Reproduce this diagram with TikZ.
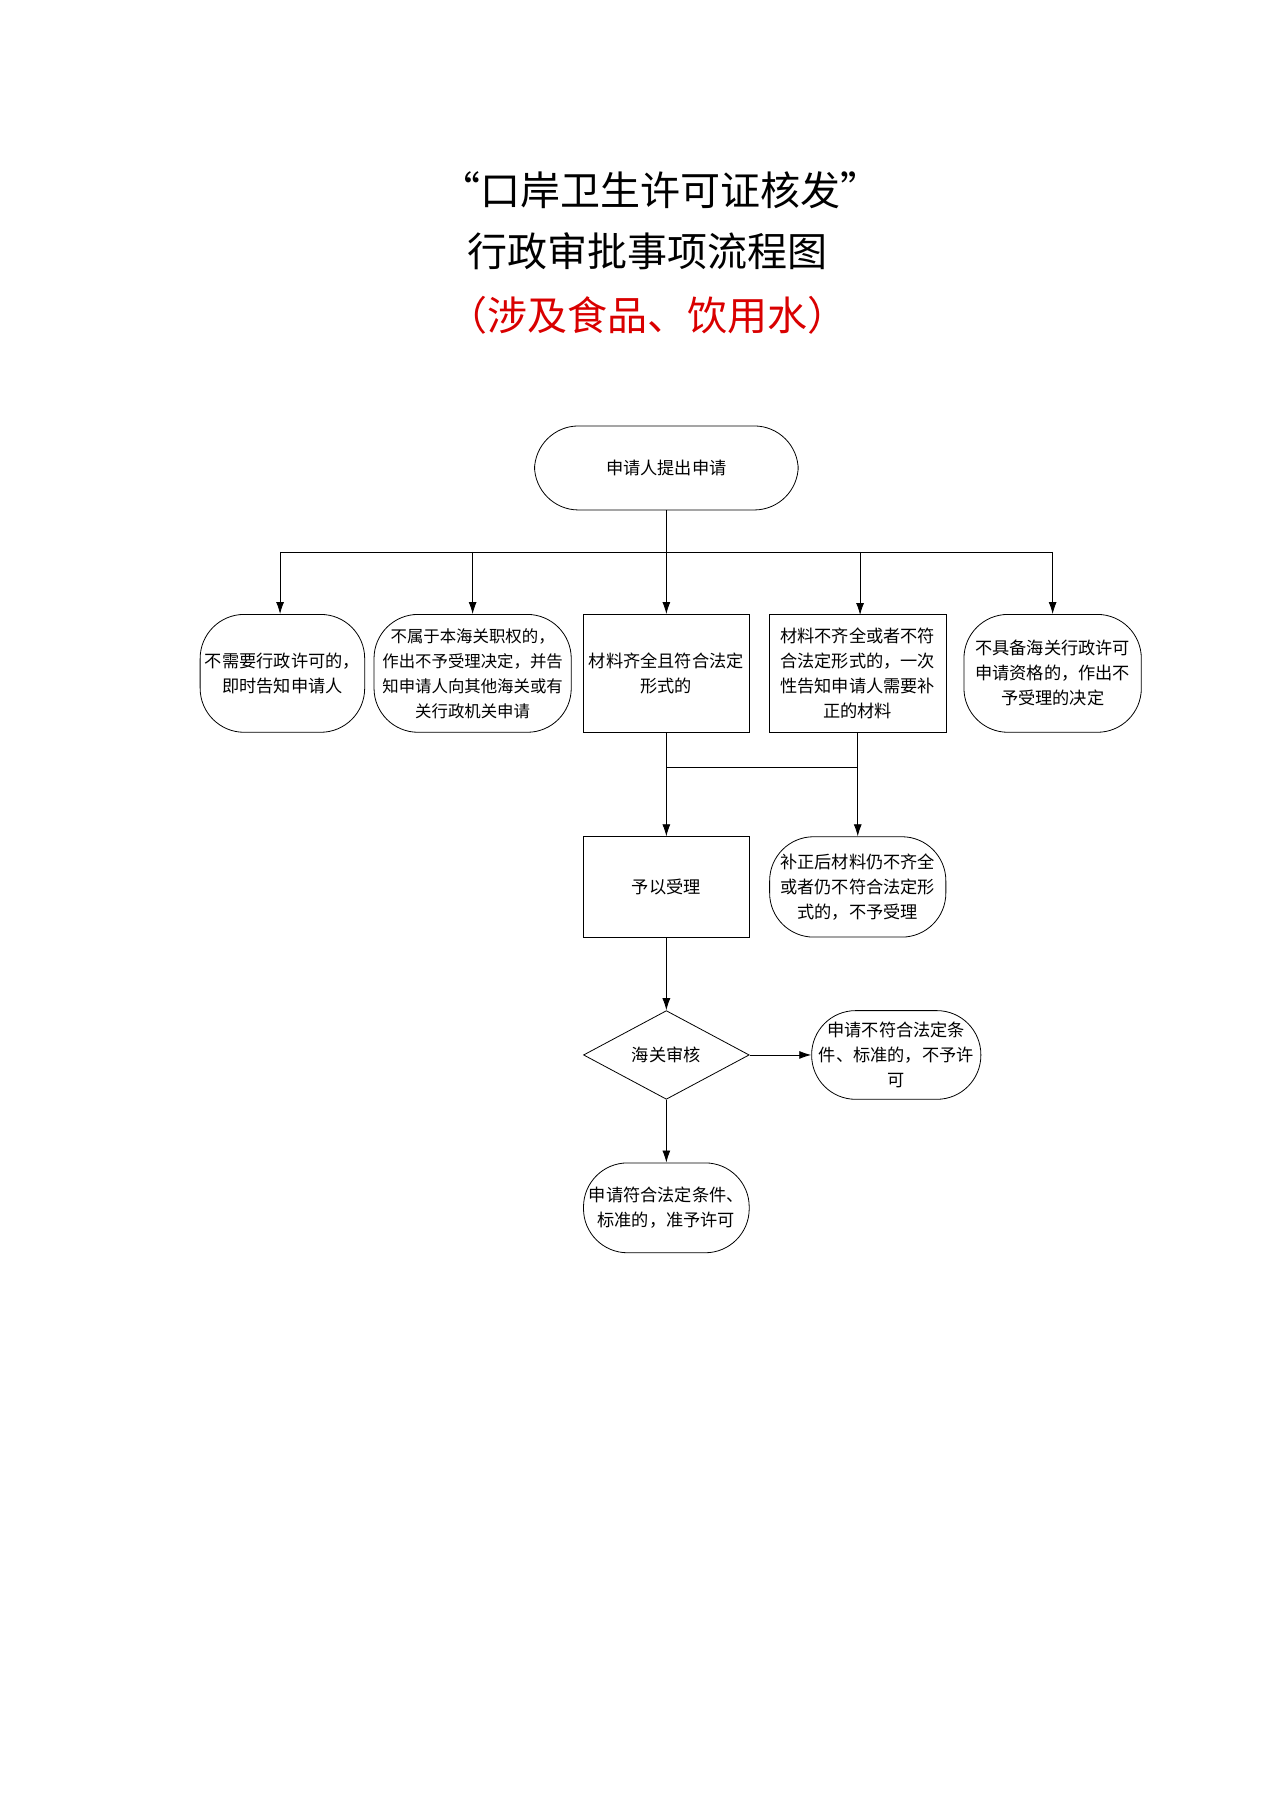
\documentclass[tikz,border=0pt]{standalone}
\usepackage{fontspec}
\setmainfont{Noto Sans CJK SC}
\usetikzlibrary{arrows.meta,shapes.geometric}
\begin{document}
\begin{tikzpicture}[x=0.5833pt,y=-0.5833pt,
  box/.style={draw,thin,minimum width=142*0.5833pt,minimum height=101*0.5833pt,align=center,font=\fontsize{8.6}{12.5}\selectfont,inner sep=1pt},
  rbox/.style={box,rounded corners=22pt},
  arr/.style={-{Latex[length=6pt,width=4pt]},thin},
  ln/.style={thin}]
\useasboundingbox (0,0) rectangle (1097,1551);
\node[font=\fontsize{20}{24}\selectfont] (t1) at (566,163) {“口岸卫生许可证核发”};
\node[font=\fontsize{20}{24}\selectfont] (t2) at (555,215) {行政审批事项流程图};
\node[font=\fontsize{20}{24}\selectfont,text=red!85!black] (t3) at (555,270) {（涉及食品、饮用水）};
\node[rbox,minimum width=226*0.5833pt,minimum height=72*0.5833pt] (s) at (571,401) {申请人提出申请};
\node[rbox,minimum width=141*0.5833pt] (a) at (242,577) {不需要行政许可的，\\即时告知申请人};
\node[rbox,minimum width=169*0.5833pt,font=\fontsize{8.2}{12.5}\selectfont] (b) at (405,577) {不属于本海关职权的，\\作出不予受理决定，并告\\知申请人向其他海关或有\\关行政机关申请};
\node[box] (c) at (571,577) {材料齐全且符合法定\\形式的};
\node[box,minimum width=152*0.5833pt] (d) at (735,577) {材料不齐全或者不符\\合法定形式的，一次\\性告知申请人需要补\\正的材料};
\node[rbox,minimum width=152*0.5833pt] (e) at (902,577) {不具备海关行政许可\\申请资格的，作出不\\予受理的决定};
\node[box,minimum height=86*0.5833pt] (f) at (571,760) {予以受理};
\node[rbox,minimum width=151*0.5833pt,minimum height=86*0.5833pt] (g) at (735,760) {补正后材料仍不齐全\\或者仍不符合法定形\\式的，不予受理};
\node[diamond,draw,thin,aspect=1.87,minimum width=142*0.5833pt,minimum height=76*0.5833pt,inner sep=0pt,font=\fontsize{8.6}{12}\selectfont] (h) at (571,904) {海关审核};
\node[rbox,minimum width=145*0.5833pt,minimum height=76*0.5833pt] (i) at (768,904) {申请不符合法定条\\件、标准的，不予许\\可};
\node[rbox,minimum height=77*0.5833pt] (j) at (571,1035) {申请符合法定条件、\\标准的，准予许可};
\coordinate (hl) at (240,473); \coordinate (hr) at (902,473); \coordinate (hm) at (571,473);
\draw[ln] (s.south) -- (hm);
\draw[ln] (hl) -- (hr);
\draw[arr] (hl) -- (a.north -| hl);
\draw[arr] (405,473) -- (b.north);
\draw[arr] (hm) -- (c.north);
\draw[arr] (737,473) -- (737,527);
\draw[arr] (hr) -- (e.north);
\coordinate (m1) at (571,658); \coordinate (m2) at (735,658);
\draw[arr] (c.south) -- (f.north);
\draw[ln] (d.south) -- (m2);
\draw[ln] (m1) -- (m2);
\draw[arr] (m2) -- (g.north);
\draw[arr] (f.south) -- (h.north);
\draw[arr] (h.east) -- (i.west);
\draw[arr] (h.south) -- (j.north);
\end{tikzpicture}
\end{document}
